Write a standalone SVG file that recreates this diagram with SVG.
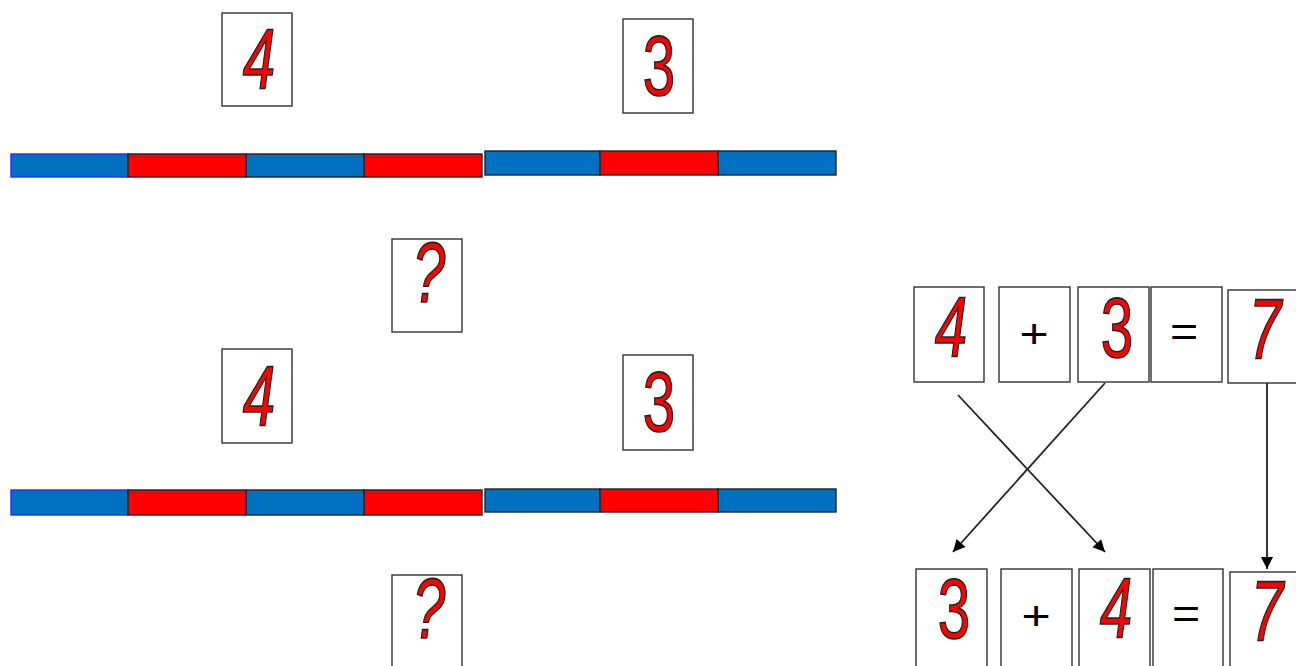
<svg xmlns="http://www.w3.org/2000/svg" width="1296" height="666" viewBox="0 0 1296 666">
  <defs>
    <style>
      .card { fill: #ffffff; stroke: #333333; stroke-width: 1.4; }
      .seg { stroke: #222222; stroke-width: 1.4; }
      .blue { fill: #0070C0; }
      .red { fill: #FF0000; }
      .edge { stroke: #2a2aff; }
      .num { font-family: "Liberation Sans", Arial, sans-serif; font-size: 86px; fill: #FF0000; stroke: #222222; stroke-width: 1.6; text-anchor: middle; }
      .it { font-style: italic; }
      .op { font-family: "Liberation Sans", Arial, sans-serif; fill: #000000; text-anchor: middle; }
      .link { stroke: #222222; stroke-width: 1.8; fill: none; marker-end: url(#head); }
    </style>
    <marker id="head" viewBox="0 0 10 10" refX="10" refY="5" markerWidth="15" markerHeight="12" markerUnits="userSpaceOnUse" orient="auto">
      <path d="M0,0 L10,5 L0,10 Z" fill="#000000"/>
    </marker>
  </defs>

  <!-- upper bar model: 4 + 3 -->
  <g id="bar-four-top">
    <rect class="seg blue edge" x="11" y="154" width="117" height="23"/>
    <rect class="seg red" x="128" y="154" width="118" height="23"/>
    <rect class="seg blue" x="246" y="154" width="118" height="23"/>
    <rect class="seg red" x="364" y="154" width="118" height="23"/>
  </g>
  <g id="bar-three-top">
    <rect class="seg blue" x="485" y="151" width="115" height="24"/>
    <rect class="seg red" x="600" y="151" width="118" height="24"/>
    <rect class="seg blue" x="718" y="151" width="118" height="24"/>
  </g>
  <g id="card-four-top">
    <rect class="card" x="222" y="13" width="70" height="93"/>
    <text class="num it" transform="translate(259,88) scale(0.68,1)">4</text>
  </g>
  <g id="card-three-top">
    <rect class="card" x="623" y="19" width="70" height="94"/>
    <text class="num" transform="translate(659,95) scale(0.68,1)">3</text>
  </g>
  <g id="card-question-top">
    <rect class="card" x="392" y="239" width="70" height="93"/>
    <text class="num it" transform="translate(429,302) scale(0.68,1)">?</text>
  </g>

  <!-- lower bar model: same lengths -->
  <g id="bar-four-bottom">
    <rect class="seg blue edge" x="11" y="490" width="117" height="25"/>
    <rect class="seg red" x="128" y="490" width="118" height="25"/>
    <rect class="seg blue" x="246" y="490" width="118" height="25"/>
    <rect class="seg red" x="364" y="490" width="118" height="25"/>
  </g>
  <g id="bar-three-bottom">
    <rect class="seg blue" x="485" y="489" width="115" height="23"/>
    <rect class="seg red" x="600" y="489" width="118" height="23"/>
    <rect class="seg blue" x="718" y="489" width="118" height="23"/>
  </g>
  <g id="card-four-bottom">
    <rect class="card" x="222" y="349" width="70" height="94"/>
    <text class="num it" transform="translate(259,425) scale(0.68,1)">4</text>
  </g>
  <g id="card-three-bottom">
    <rect class="card" x="623" y="355" width="70" height="95"/>
    <text class="num" transform="translate(659,431) scale(0.68,1)">3</text>
  </g>
  <g id="card-question-bottom">
    <rect class="card" x="392" y="575" width="70" height="100"/>
    <text class="num it" transform="translate(429,638) scale(0.68,1)">?</text>
  </g>

  <!-- equation 4 + 3 = 7 -->
  <g id="eq1-four">
    <rect class="card" x="914" y="287" width="70" height="95"/>
    <text class="num it" transform="translate(951,356) scale(0.68,1)">4</text>
  </g>
  <g id="eq1-plus">
    <rect class="card" x="999" y="287" width="71" height="95"/>
    <text class="op" font-size="40" transform="translate(1034,348) scale(1.25,1)">+</text>
  </g>
  <g id="eq1-three">
    <rect class="card" x="1078" y="287" width="71" height="95"/>
    <text class="num" transform="translate(1117,357) scale(0.68,1)">3</text>
  </g>
  <g id="eq1-equals">
    <rect class="card" x="1151" y="287" width="71" height="95"/>
    <text class="op" font-size="42" transform="translate(1184,346) scale(1.15,1)">=</text>
  </g>
  <g id="eq1-seven">
    <rect class="card" x="1228" y="290" width="72" height="93"/>
    <text class="num it" transform="translate(1265,358) scale(0.68,1)">7</text>
  </g>

  <!-- equation 3 + 4 = 7 -->
  <g id="eq2-three">
    <rect class="card" x="916" y="569" width="71" height="100"/>
    <text class="num" transform="translate(954,638) scale(0.68,1)">3</text>
  </g>
  <g id="eq2-plus">
    <rect class="card" x="1001" y="569" width="71" height="100"/>
    <text class="op" font-size="40" transform="translate(1036,630) scale(1.25,1)">+</text>
  </g>
  <g id="eq2-four">
    <rect class="card" x="1079" y="569" width="71" height="100"/>
    <text class="num it" transform="translate(1116,637) scale(0.68,1)">4</text>
  </g>
  <g id="eq2-equals">
    <rect class="card" x="1153" y="569" width="70" height="100"/>
    <text class="op" font-size="42" transform="translate(1186,628) scale(1.15,1)">=</text>
  </g>
  <g id="eq2-seven">
    <rect class="card" x="1230" y="572" width="70" height="100"/>
    <text class="num it" transform="translate(1267,640) scale(0.68,1)">7</text>
  </g>

  <!-- swap arrows between the two equations -->
  <g id="connectors">
    <line class="link" x1="958" y1="395" x2="1105" y2="552"/>
    <line class="link" x1="1105" y1="383" x2="953" y2="552"/>
    <line class="link" x1="1267" y1="383" x2="1267" y2="569"/>
  </g>
</svg>
